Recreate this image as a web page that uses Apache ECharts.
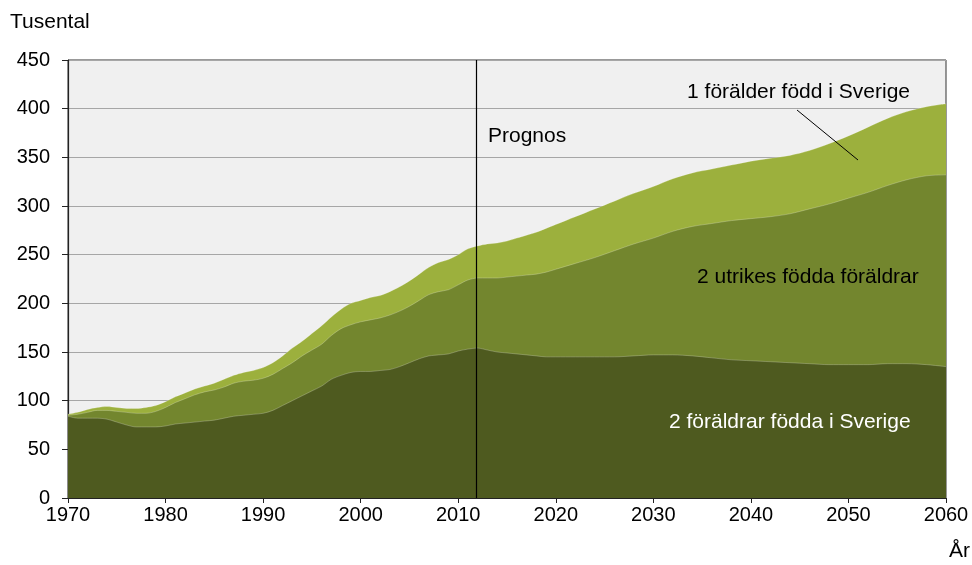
<!DOCTYPE html>
<html>
<head>
<meta charset="utf-8">
<script src="https://cdn.jsdelivr.net/npm/echarts@6/dist/echarts.min.js"></script>
<style>
  html, body { margin: 0; padding: 0; background: #fff; }
  #chart { width: 972px; height: 565px; }
</style>
</head>
<body>
<div id="chart"></div>
<script>
// år 1970-2020 varje år, därefter vartannat år (prognos)
const years = [
  1970, 1971, 1972, 1973, 1974, 1975, 1976, 1977, 1978, 1979,
  1980, 1981, 1982, 1983, 1984, 1985, 1986, 1987, 1988, 1989,
  1990, 1991, 1992, 1993, 1994, 1995, 1996, 1997, 1998, 1999,
  2000, 2001, 2002, 2003, 2004, 2005, 2006, 2007, 2008, 2009,
  2010, 2011, 2012, 2013, 2014, 2015, 2016, 2017, 2018, 2019,
  2020, 2022, 2024, 2026, 2028, 2030, 2032, 2034, 2036, 2038,
  2040, 2042, 2044, 2046, 2048, 2050, 2052, 2054, 2056, 2058, 2060
]

// tusental
const tvaSverige = [
  84, 82, 82, 82, 81, 78, 75, 73, 73, 73,
  74, 76, 77, 78, 79, 80, 82, 84, 85, 86,
  87, 90, 95, 100, 105, 110, 115, 122, 126, 129,
  130, 130, 131, 132, 135, 139, 143, 146, 147, 148,
  151, 153, 154, 152, 150, 149, 148, 147, 146, 145,
  145, 145, 145, 145, 146, 147, 147, 146, 144, 142,
  141, 140, 139, 138, 137, 137, 137, 138, 138, 137, 135
]

const tvaUtrikes = [
  1, 4, 6, 8, 9, 11, 13, 14, 14, 16,
  19, 22, 25, 28, 30, 31, 32, 34, 35, 35,
  36, 37, 38, 39, 41, 42, 43, 45, 48, 49,
  51, 53, 54, 56, 57, 58, 60, 63, 65, 66,
  68, 71, 72, 74, 76, 78, 80, 82, 84, 87,
  90, 96, 102, 109, 115, 120, 127, 133, 138, 143,
  146, 149, 153, 159, 165, 171, 177, 183, 189, 194, 197
]

const enSverige = [
  1, 2, 3, 3, 4, 4, 4, 5, 6, 6,
  6, 6, 6, 6, 6, 7, 8, 8, 9, 10,
  11, 12, 13, 15, 15, 17, 19, 19, 20, 22,
  22, 23, 23, 24, 25, 26, 27, 28, 30, 31,
  31, 32, 33, 35, 36, 37, 39, 41, 43, 45,
  46, 48, 50, 51, 52, 53, 54, 55, 56, 57,
  59, 60, 60, 60, 62, 64, 67, 69, 70, 71, 73
]

const prognosYear = 2011.8
const labelFont = 'Liberation Sans, Arial, sans-serif'

const chart = echarts.init(document.getElementById('chart'))

// staplade summor: varje yta fylls ner till noll, den största ritas först
const sumMid = tvaSverige.map((v, i) => v + tvaUtrikes[i])
const sumTop = sumMid.map((v, i) => v + enSverige[i])

function pairs(vals) {
  return years.map((y, i) => [y, vals[i]])
}

function areaSeries(name, vals, color, extra) {
  return Object.assign({
    name: name,
    type: 'line',
    data: pairs(vals),
    smooth: 0.3,
    symbol: 'none',
    lineStyle: { width: 0.8, color: 'rgba(255,255,255,0.3)' },
    areaStyle: { color: color, opacity: 1 },
    itemStyle: { color: color }
  }, extra || {})
}

function note(text, pos, fill) {
  return Object.assign({
    type: 'text', z: 100,
    style: { text: text, font: '21px ' + labelFont, fill: fill || '#000' }
  }, pos)
}

chart.setOption({
  animation: false,
  backgroundColor: '#fff',
  textStyle: { fontFamily: labelFont },
  grid: {
    left: 68, right: 26, top: 60, bottom: 67,
    show: true,
    backgroundColor: '#f0f0f0',
    borderColor: '#333',
    borderWidth: 1
  },
  xAxis: {
    type: 'value',
    min: 1970, max: 2060, interval: 10,
    axisLine: { lineStyle: { color: '#222', width: 1.2 } },
    axisTick: { show: true, length: 5, lineStyle: { color: '#222' } },
    axisLabel: { color: '#000', fontSize: 20, margin: 7, formatter: v => String(v) },
    splitLine: { show: false }
  },
  yAxis: {
    type: 'value',
    min: 0, max: 450, interval: 50,
    axisLine: { show: true, lineStyle: { color: '#222', width: 1.2 } },
    axisTick: { show: true, length: 6, lineStyle: { color: '#222' } },
    axisLabel: { color: '#000', fontSize: 20, margin: 18 },
    splitLine: { lineStyle: { color: '#a6a6a6', width: 1.2 } }
  },
  series: [
    areaSeries('1 förälder född i Sverige', sumTop, '#9cb03d'),
    areaSeries('2 utrikes födda föräldrar', sumMid, '#73862e'),
    areaSeries('2 föräldrar födda i Sverige', tvaSverige, '#4e5a1f', {
      markLine: {
        silent: true,
        symbol: 'none',
        label: { show: false },
        lineStyle: { color: '#000', width: 1.2, type: 'solid' },
        data: [{ xAxis: prognosYear }]
      }
    })
  ],
  graphic: [
    note('Tusental', { left: 10, top: 12 }),
    note('År', { left: 949, top: 541 }),
    note('Prognos', { left: 488, top: 126 }),
    note('1 förälder född i Sverige', { right: 62, top: 82 }),
    { type: 'line', z: 100, shape: { x1: 797, y1: 110, x2: 858, y2: 160 }, style: { stroke: '#000', lineWidth: 1 } },
    note('2 utrikes födda föräldrar', { left: 697, top: 267 }),
    note('2 föräldrar födda i Sverige', { left: 669, top: 412 }, '#fff')
  ]
})
</script>
</body>
</html>
